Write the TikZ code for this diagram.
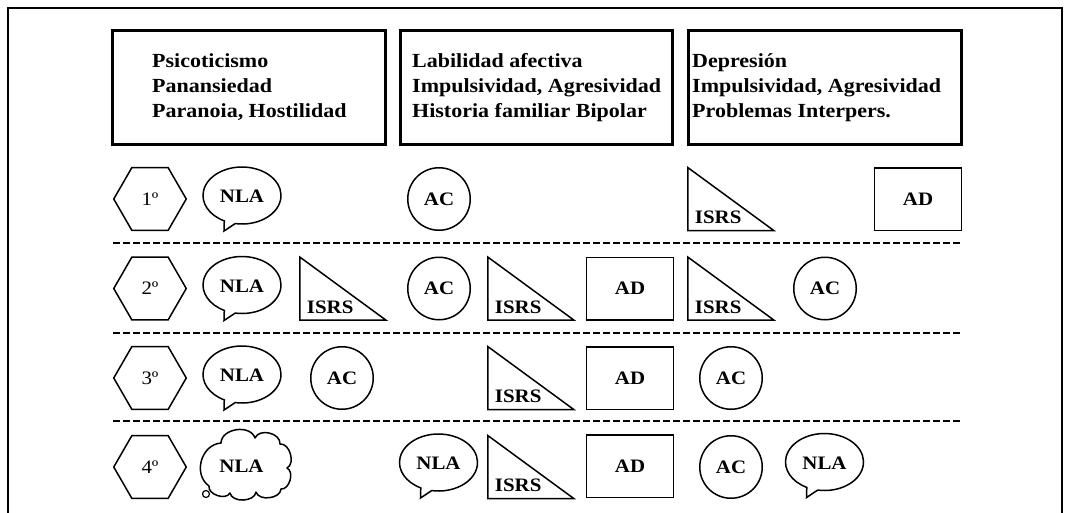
\documentclass[tikz,border=0pt]{standalone}
\usepackage{fontspec}
\setmainfont{Liberation Serif}[FakeStretch=1.1]
\usetikzlibrary{calc,shapes.geometric}

\tikzset{
  frame/.style={line width=2pt},
  headbox/.style={line width=3pt},
  headtxt/.style={anchor=base west, inner sep=0pt, font=\fontsize{20}{24}\selectfont\bfseries},
  sepline/.style={line width=2.5pt, dash pattern=on 6.5pt off 3.5pt},
  outl/.style={line width=1.5pt, line join=miter},
  lbl/.style={inner sep=0pt, font=\fontsize{19}{22}\selectfont\bfseries},
  hexa/.style={draw, outl, regular polygon, regular polygon sides=6,
    minimum size=72.5pt, inner sep=0pt, font=\fontsize{19}{22}\selectfont},
  circ/.style={draw, outl, circle, minimum size=62.5pt, inner sep=0pt, lbl},
  adbox/.style={draw, outl, rectangle, minimum width=87pt, minimum height=62.5pt, inner sep=0pt, lbl},
}

% speech bubble: #1 name, #2 centre x, #3 row centre y
\newcommand\speechbubble[3]{%
  \draw[outl] ($(#2,#3-3.5)+(100:39 and 28.5)$)
    arc[start angle=100, end angle=-243, x radius=39, y radius=28.5]
    -- ($(#2,#3-3.5)+(-18,35.5)$) -- cycle;
  \node[lbl] (#1) at (#2,#3-2.5) {NLA};
}
% right triangle: #1 name, #2 left x, #3 row centre y
\newcommand\isrstri[3]{%
  \draw[outl] (#2,#3-31.5) -- (#2,#3+31.5) -- (#2+86,#3+31.5) -- cycle;
  \node[lbl, anchor=base west] (#1) at (#2+7,#3+24.5) {ISRS};
}

\begin{document}
\begin{tikzpicture}[x=1pt, y=-1pt]
\useasboundingbox (0,0) rectangle (1067,512);

% outer frame (runs past the lower edge)
\draw[frame] (8,530) -- (8,8.3) -- (1062,8.3) -- (1062,530);

% header boxes
\draw[headbox] (112.5,30.8) rectangle (385.5,144.3);
\draw[headbox] (400.5,30.8) rectangle (672.5,144.3);
\draw[headbox] (688.5,30.8) rectangle (961.5,144.3);

\node[headtxt] (h1a) at (152,67) {Psicoticismo};
\node[headtxt] (h1b) at (152,92) {Panansiedad};
\node[headtxt] (h1c) at (152,117) {Paranoia, Hostilidad};

\node[headtxt] (h2a) at (412,67) {Labilidad afectiva};
\node[headtxt] (h2b) at (412,92) {Impulsividad, Agresividad};
\node[headtxt] (h2c) at (412,117) {Historia familiar Bipolar};

\node[headtxt] (h3a) at (692,67) {Depresión};
\node[headtxt] (h3b) at (692,92) {Impulsividad, Agresividad};
\node[headtxt] (h3c) at (692,117) {Problemas Interpers.};

% separators between the rows
\draw[sepline] (113,243) -- (962,243);
\draw[sepline] (113,333) -- (962,333);
\draw[sepline] (113,421) -- (962,421);

% row 1
\node[hexa] (hex1) at (150,199) {1º};
\speechbubble{nla1}{242}{199}
\node[circ] (ac1a) at (439,199) {AC};
\isrstri{isrs1a}{687.75}{199}
\node[adbox] (ad1a) at (918,199) {AD};

% row 2
\node[hexa] (hex2) at (150,288.5) {2º};
\speechbubble{nla2}{242}{288.5}
\isrstri{isrs2a}{299.75}{288.5}
\node[circ] (ac2a) at (439,288.5) {AC};
\isrstri{isrs2b}{487.75}{288.5}
\node[adbox] (ad2a) at (630,288.5) {AD};
\isrstri{isrs2c}{687.75}{288.5}
\node[circ] (ac2b) at (825,288.5) {AC};

% row 3
\node[hexa] (hex3) at (150,378) {3º};
\speechbubble{nla3}{242}{378}
\node[circ] (ac3a) at (342,378) {AC};
\isrstri{isrs3a}{487.75}{378}
\node[adbox] (ad3a) at (630,378) {AD};
\node[circ] (ac3b) at (731,378) {AC};

% row 4
\node[hexa] (hex4) at (150,467) {4º};
% thought cloud
\draw[outl, line join=round]
  (209,486) to[bend left=70, looseness=1.15] (221,443)
            to[bend left=80, looseness=1.1] (255,438)
            to[bend left=80, looseness=1.1] (280,444)
            to[bend left=80, looseness=1.0] (287,468)
            to[bend left=80, looseness=1.0] (281,489)
            to[bend left=80, looseness=1.0] (256,492)
            to[bend left=80, looseness=1.0] (230,493)
            to[bend left=80, looseness=1.0] (209,486);
\draw[line width=1.2pt] (206,494) circle[radius=3.5];
\node[lbl] (nla4a) at (241.5,466) {NLA};
\speechbubble{nla4b}{438.5}{466}
\isrstri{isrs4a}{487.75}{467}
\node[adbox] (ad4a) at (630,466) {AD};
\node[circ] (ac4a) at (731,467) {AC};
\speechbubble{nla4c}{824.5}{465.5}
\end{tikzpicture}
\end{document}
